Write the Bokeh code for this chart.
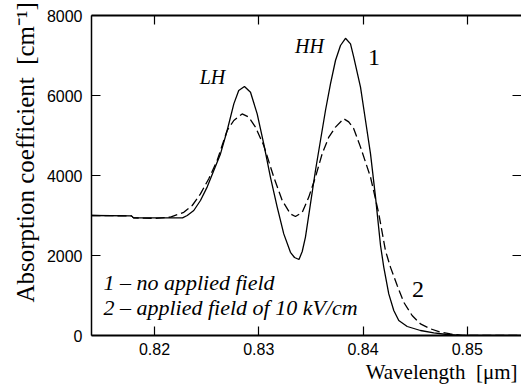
from bokeh.plotting import figure
from bokeh.models import LinearAxis, Label, Range1d, FixedTicker, Title
from bokeh.embed import file_html
from bokeh.resources import INLINE

# Wavelength [um] and absorption coefficient [cm^-1], curve 1 (no applied field)
wl_1 = [0.81396, 0.81779, 0.81799, 0.81962, 0.82269, 0.82314, 0.82377, 0.82441,
        0.82505, 0.82569, 0.82633, 0.82697, 0.82761, 0.82808, 0.82863, 0.82921,
        0.82985, 0.83048, 0.83112, 0.83177, 0.83240, 0.83304, 0.83343, 0.83386,
        0.83417, 0.83448, 0.83496, 0.83544, 0.83592, 0.83640, 0.83688, 0.83736,
        0.83784, 0.83832, 0.83880, 0.83911, 0.83976, 0.84024, 0.84072, 0.84120,
        0.84168, 0.84199, 0.84247, 0.84295, 0.84343, 0.84424, 0.84551, 0.84679,
        0.84807, 0.84935, 0.85520]
abs_1 = [3000, 2990, 2940, 2942, 2942, 3000, 3125, 3375,
         3710, 4125, 4540, 5125, 5790, 6125, 6225, 6080,
         5540, 4790, 3960, 3210, 2540, 2080, 1950, 1900,
         2100, 2460, 3290, 4125, 4875, 5625, 6290, 6875,
         7250, 7430, 7290, 6960, 6210, 5375, 4540, 3460,
         2250, 1710, 1040, 625, 375, 225, 125, 67,
         25, 0, 0]

# curve 2 (applied field of 10 kV/cm)
wl_2 = [0.81396, 0.81779, 0.81799, 0.82010, 0.82153, 0.82281, 0.82362, 0.82441,
        0.82521, 0.82601, 0.82697, 0.82761, 0.82841, 0.82904, 0.82969, 0.83048,
        0.83144, 0.83225, 0.83304, 0.83352, 0.83417, 0.83480, 0.83544, 0.83608,
        0.83672, 0.83736, 0.83815, 0.83863, 0.83911, 0.83976, 0.84072, 0.84151,
        0.84215, 0.84263, 0.84328, 0.84391, 0.84471, 0.84551, 0.84648, 0.84743,
        0.84839, 0.84954, 0.85520]
abs_2 = [3000, 2990, 2940, 2930, 2960, 3080, 3250, 3540,
         3920, 4375, 5125, 5375, 5540, 5460, 5210, 4750,
         3960, 3375, 3040, 2975, 3080, 3460, 3960, 4540,
         4960, 5210, 5420, 5340, 5170, 4710, 3960, 3050,
         2125, 1710, 1250, 830, 500, 290, 167, 83,
         40, 0, 0]

x_ticks = [0.82, 0.83, 0.84, 0.85]
y_ticks = [0, 2000, 4000, 6000, 8000]

x_title = "Wavelength\u00a0\u00a0[\u03bcm]"
y_title = "Absorption coefficient\u00a0\u00a0[cm\u207b\u00b9]"

p = figure(width=521, height=385, output_backend="svg", toolbar_location=None,
           x_range=Range1d(0.81396, 0.8552), y_range=Range1d(0, 8000),
           min_border_left=91, min_border_right=0, min_border_top=15,
           min_border_bottom=50)
p.outline_line_color = None
p.xgrid.visible = False
p.ygrid.visible = False
p.background_fill_color = "white"
p.border_fill_color = "white"

tick_font = "Liberation Sans"
serif = "Liberation Serif"

def style_axis(ax, ticks, labels=True):
    ax.ticker = FixedTicker(ticks=ticks)
    ax.minor_tick_line_color = None
    ax.major_tick_in = 9
    ax.major_tick_out = 0
    ax.minor_tick_out = 0
    ax.minor_tick_in = 0
    ax.major_tick_line_color = "black"
    ax.major_tick_line_width = 1.2
    ax.axis_line_color = "black"
    ax.axis_line_width = 2
    if labels:
        ax.major_label_text_font = tick_font
        ax.major_label_text_font_size = "16px"
        ax.major_label_text_color = "black"
    else:
        ax.major_label_text_font_size = "1px"
        ax.major_label_text_color = None
        ax.major_label_standoff = 0

style_axis(p.xaxis[0], x_ticks)
p.xaxis[0].major_label_standoff = 7
style_axis(p.yaxis[0], y_ticks)
p.yaxis[0].major_label_standoff = 9
p.yaxis[0].axis_line_width = 1.5

top = LinearAxis()
style_axis(top, x_ticks, labels=False)
p.add_layout(top, "above")

right = LinearAxis()
style_axis(right, y_ticks, labels=False)
right.axis_line_color = None
p.add_layout(right, "right")

p.line(wl_1, abs_1, line_color="black", line_width=1.3)
p.line(wl_2, abs_2, line_color="black", line_width=1.3, line_dash="9 4")

def add_label(x, y, text, size, italic=False, align="center", baseline="middle"):
    p.add_layout(Label(x=x, y=y, text=text, text_font=serif, text_font_size=size,
                       text_font_style="italic" if italic else "normal",
                       text_align=align, text_baseline=baseline,
                       text_color="black"))

add_label(0.82556, 6475, "LH", "20px", italic=True)
add_label(0.83487, 7250, "HH", "20px", italic=True)
add_label(0.84105, 6950, "1", "24px")
add_label(0.84527, 1150, "2", "24px")
add_label(0.81511, 1325, "1 \u2013 no applied field", "22px", italic=True,
          align="left", baseline="alphabetic")
add_label(0.81511, 708, "2 \u2013 applied field of 10 kV/cm", "22px", italic=True,
          align="left", baseline="alphabetic")

xt = Title(text=x_title, align="right", offset=4, standoff=0,
           text_font=serif, text_font_size="21px", text_font_style="normal",
           text_color="black")
p.add_layout(xt, "below")

yt = Title(text=y_title, align="left", offset=33, standoff=9,
           text_font=serif, text_font_size="25px", text_font_style="normal",
           text_color="black")
p.add_layout(yt, "left")

open("out.html", "w").write(file_html(p, INLINE))
